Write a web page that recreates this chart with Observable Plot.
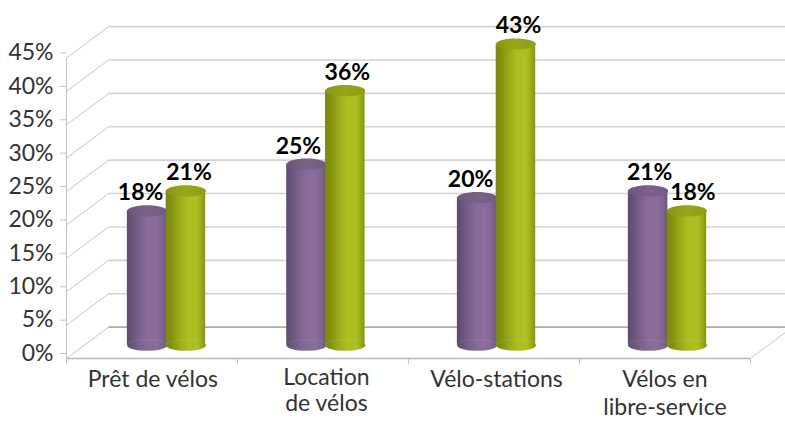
<!DOCTYPE html>
<html lang="fr">
<head>
<meta charset="utf-8">
<title>Vélos</title>
<script src="https://cdn.jsdelivr.net/npm/d3@7"></script>
<script src="https://cdn.jsdelivr.net/npm/@observablehq/plot@0.6"></script>
<style>
  html, body { margin: 0; padding: 0; background: #fff; }
  svg { display: block; }
</style>
</head>
<body>
<div id="chart"></div>
<script>
// Chart data
const categories = ["Prêt de vélos", "Location\nde vélos", "Vélo-stations", "Vélos en\nlibre-service"];
const purpleValues = [18, 25, 20, 21];
const greenValues = [21, 36, 43, 18];
const yLevels = [0, 5, 10, 15, 20, 25, 30, 35, 40, 45];
const separators = [0, 1, 2, 3, 4];

// Layout of the pseudo-3D box, in data units of the x and y scales
const depthX = 0.246;         // horizontal shift from the front plane to the back wall
const depthY = 4.7;           // vertical shift from the front plane to the back wall
const barRise = 4.1;          // vertical shift of a cylinder's top relative to the front plane
const floorX = 4;             // right end of the front floor edge
const wallEnd = 4.205;        // right end of the back wall
const halfBar = 0.1155;       // half a cylinder width
const barGap = 0.1135;        // distance from group centre to each cylinder axis
const barFoot = 2;            // cylinder foot height above the front floor edge
const sepDrop = 0.9;          // length of the category separators below the floor edge
const groupCentre = [0.585, 1.517, 2.515, 3.515];
const purpleLabelShift = [-0.038, -0.047, -0.038, 0.009];
const greenLabelShift = [0.018, 0.012, 0.015, 0.035];
const captionLineHeight = [1, 1.13, 1, 1.22];
const captionDrop = [12, 8, 12, 9];
const captionCentre = [0.505, 1.52, 2.515, 3.5];

const FONT = "Lato, 'Open Sans', sans-serif";

// Flat ellipse symbol for the cylinder caps; rx follows the dot radius
const ellipseSymbol = {
  draw(ctx, size) {
    const rx = Math.sqrt(size / Math.PI), ry = rx * 0.28, k = 0.5523;
    ctx.moveTo(-rx, 0);
    ctx.bezierCurveTo(-rx, -ry * k, -rx * k, -ry, 0, -ry);
    ctx.bezierCurveTo(rx * k, -ry, rx, -ry * k, rx, 0);
    ctx.bezierCurveTo(rx, ry * k, rx * k, ry, 0, ry);
    ctx.bezierCurveTo(-rx * k, ry, -rx, ry * k, -rx, 0);
    ctx.closePath();
  }
};

// Shading of the cylinders, from the left edge to the right edge
function gradientDefs() {
  const defs = d3.create("svg:defs");
  const add = (id, stops) => {
    const g = defs.append("linearGradient").attr("id", id)
      .attr("x1", 0).attr("x2", 1).attr("y1", 0).attr("y2", 0);
    stops.forEach(([o, c]) => g.append("stop").attr("offset", o).attr("stop-color", c));
  };
  add("purpleBody", [[0, "#5e4a6c"], [0.12, "#67527a"], [0.3, "#796089"], [0.5, "#886b98"], [0.72, "#8a6d9a"], [0.88, "#7f6590"], [1, "#6d5680"]]);
  add("greenBody", [[0, "#7a8710"], [0.14, "#83910f"], [0.32, "#98a818"], [0.55, "#adbe22"], [0.78, "#aebf22"], [0.9, "#9bab18"], [1, "#85930f"]]);
  add("purpleTop", [[0, "#6c5779"], [0.5, "#7a6289"], [1, "#735c82"]]);
  add("greenTop", [[0, "#8a9812"], [0.5, "#97a71a"], [1, "#8f9e14"]]);
  return defs.node();
}

// One series of cylinders: foot cap, body, top cap
function cylinders(values, side, body, top) {
  const axis = (_, i) => groupCentre[i] + side * barGap;
  return [
    Plot.dot(values, { x: axis, y: () => barFoot, r: 20, symbol: ellipseSymbol, fill: `url(#${body})` }),
    Plot.rect(values, {
      x1: (_, i) => axis(_, i) - halfBar,
      x2: (_, i) => axis(_, i) + halfBar,
      y1: () => barFoot,
      y2: (d) => d + barRise,
      fill: `url(#${body})`
    }),
    Plot.dot(values, { x: axis, y: () => barFoot, r: 20, symbol: ellipseSymbol, fill: "none", stroke: "#fff", strokeOpacity: 0.07 }),
    Plot.dot(values, { x: axis, y: (d) => d + barRise, r: 20, symbol: ellipseSymbol, fill: `url(#${top})` })
  ];
}

function valueLabels(values, side, shift) {
  return Plot.text(values, {
    x: (_, i) => groupCentre[i] + side * barGap + shift[i],
    y: (d) => d + barRise,
    text: (d) => `${d}%`,
    dy: -18,
    fontSize: 23,
    fontWeight: 700,
    fill: "#000"
  });
}

const chart = Plot.plot({
  width: 785,
  height: 423,
  marginLeft: 66,
  marginRight: 0,
  marginTop: 57.5,
  marginBottom: 65,
  style: { fontFamily: FONT, background: "#fff", color: "#333" },
  x: { type: "linear", domain: [0, wallEnd], axis: null },
  y: { type: "linear", domain: [0, 45], axis: null },
  marks: [
    gradientDefs,
    // Back wall gridlines
    Plot.link(yLevels.filter((v) => v > 0), {
      x1: () => depthX, x2: () => wallEnd,
      y1: (v) => v + depthY, y2: (v) => v + depthY,
      stroke: "#d3d3d3", strokeWidth: 1.6
    }),
    Plot.link([0], {
      x1: () => depthX, x2: () => wallEnd,
      y1: () => depthY, y2: () => depthY,
      stroke: "#ababab", strokeWidth: 1.6
    }),
    // Side wall diagonals
    Plot.link(yLevels, {
      x1: () => 0, x2: () => depthX,
      y1: (v) => v, y2: (v) => v + depthY,
      stroke: "#c6c6c6", strokeWidth: 1
    }),
    // Floor edge on the right, and the front edges of the box
    Plot.link([0], {
      x1: () => floorX, x2: () => wallEnd,
      y1: () => 0, y2: () => depthY * (wallEnd - floorX) / depthX,
      stroke: "#c6c6c6", strokeWidth: 1
    }),
    Plot.link([0], { x1: () => 0, x2: () => 0, y1: () => 0, y2: () => 45, stroke: "#bfc3c6" }),
    Plot.link([0], { x1: () => 0, x2: () => floorX, y1: () => 0, y2: () => 0, stroke: "#b4b8ba", strokeWidth: 1.4 }),
    Plot.axisY({
      ticks: yLevels,
      tickFormat: (d) => `${d}%`,
      tickSize: 6,
      tickPadding: 7,
      stroke: "#bfc3c6",
      color: "#333",
      fontSize: 23,
      dy: -5,
      label: null
    }),
    // Category separators under the floor edge
    Plot.link(separators, { x1: (d) => d, x2: (d) => d, y1: () => 0, y2: () => -sepDrop, stroke: "#bfc3c6" }),
    // Category names
    categories.map((c, i) =>
      Plot.text([c], {
        x: () => captionCentre[i],
        y: () => 0,
        dy: captionDrop[i],
        lineAnchor: "top",
        lineHeight: captionLineHeight[i],
        fontSize: 23,
        fill: "#333"
      })
    ),
    // Cylinders
    cylinders(purpleValues, -1, "purpleBody", "purpleTop"),
    cylinders(greenValues, 1, "greenBody", "greenTop"),
    valueLabels(purpleValues, -1, purpleLabelShift),
    valueLabels(greenValues, 1, greenLabelShift)
  ]
});

document.getElementById("chart").append(chart);
</script>
</body>
</html>
